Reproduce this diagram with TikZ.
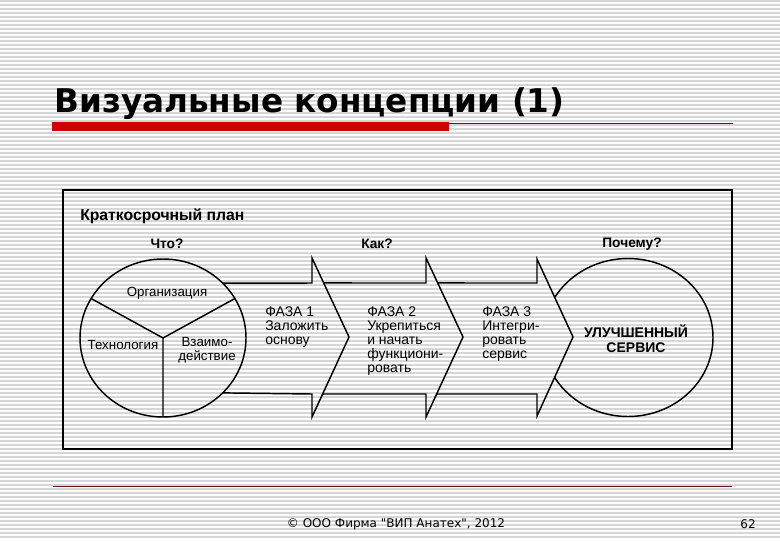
\documentclass[tikz,border=0pt]{standalone}
\usepackage{fontspec}
\setmainfont{Liberation Sans}
\newfontfamily\titlefont{DejaVu Sans}
\newfontfamily\footfont{DejaVu Sans}
\usetikzlibrary{calc}
\definecolor{paper}{HTML}{FFFFFF}
\definecolor{stripe}{HTML}{D6D6D6}
\definecolor{barred}{HTML}{CC0000}
\definecolor{linered}{HTML}{701010}
\definecolor{ink}{HTML}{000000}
\tikzset{
  base/.style={draw=ink, line width=1.1pt, line join=miter},
  frame/.style={draw=ink, line width=0.9pt},
  stripes/.style={draw=stripe, line width=1pt},
  thinred/.style={draw=linered, line width=0.8pt},
  titlelab/.style={text=ink, font=\titlefont\bfseries\fontsize{24.5}{26}\selectfont, inner sep=0pt},
  head/.style={text=ink, font=\bfseries\fontsize{11.8}{13}\selectfont, inner sep=0pt},
  ask/.style={text=ink, font=\bfseries\fontsize{10.3}{12}\selectfont, inner sep=0pt},
  lab/.style={text=ink, font=\fontsize{10}{10.5}\selectfont, inner sep=0pt, align=center},
  phase/.style={text=ink, font=\fontsize{10.5}{10.5}\selectfont, inner sep=0pt, align=left, anchor=north west},
  goal/.style={text=ink, font=\bfseries\fontsize{10.5}{11.5}\selectfont, inner sep=0pt, align=center},
  foot/.style={text=ink, font=\footfont\fontsize{9}{10}\selectfont, inner sep=0pt},
}
\begin{document}
\begin{tikzpicture}[x=0.75pt, y=-0.75pt]
  \useasboundingbox (0,0) rectangle (780,540);
  \fill[paper] (0,0) rectangle (780,540);
  \foreach \s in {1,5,...,537} \draw[stripes] (0,\s) -- (780,\s);

  % title and rules
  \node[titlelab, anchor=base west] (title) at (54,112) {Визуальные концепции (1)};
  \fill[barred] (52,122) rectangle (449,131);
  \draw[thinred] (449,123.5) -- (733,123.5);
  \draw[thinred] (53,486.5) -- (732,486.5);

  % frame and captions
  \draw[frame] (63,190) rectangle (732,449);
  \node[head, anchor=west] (plan) at (80,216) {Краткосрочный план};
  \node[ask] (what) at (167,244) {Что?};
  \node[ask] (how) at (377,244) {Как?};
  \node[ask] (why) at (632,244) {Почему?};

  % left circle
  \coordinate (L) at (163,338);
  \draw[base] (L) ellipse (83 and 79);
  \draw[base] (L) -- ($(L)+(-150:83 and 79)$)
              (L) -- ($(L)+(-30:83 and 79)$)
              (L) -- ($(L)+(90:83 and 79)$);
  \node[lab] (org) at (167,293) {Организация};
  \node[lab] (tech) at (123,345) {Технология};
  \node[lab] (inter) at (207,350) {Взаимо-\\действие};

  % arrow band
  \coordinate (A1) at (312,258); \coordinate (T1) at (349,337); \coordinate (B1) at (312,417);
  \coordinate (A2) at (426,258); \coordinate (T2) at (463,337); \coordinate (B2) at (426,417);
  \coordinate (A3) at (537,259); \coordinate (T3) at (573,337); \coordinate (B3) at (537,416);
  \draw[base] ($(L)+(-44:83 and 79)$) -- (312,283) -- (A1) -- (T1) -- (B1) -- (312,394)
              -- ($(L)+(44:83 and 79)$);
  \draw[base] ($(A1)!0.316!(T1)$) -- (426,283) -- (A2) -- (T2) -- (B2) -- (426,394)
              -- ($(B1)!0.2875!(T1)$);
  \draw[base] ($(A2)!0.316!(T2)$) -- (537,283) -- (A3) -- (T3) -- (B3) -- (537,394)
              -- ($(B2)!0.2875!(T2)$);
  \node[phase] (ph1) at (265,306) {ФАЗА 1\\Заложить\\основу};
  \node[phase] (ph2) at (367,306) {ФАЗА 2\\Укрепиться\\и начать\\функциони-\\ровать};
  \node[phase] (ph3) at (482,306) {ФАЗА 3\\Интегри-\\ровать\\сервис};

  % right circle
  \coordinate (R) at (628,337.5);
  \begin{scope}
    \clip (537,190) -- (A3) -- (T3) -- (B3) -- (537,449) -- (732,449) -- (732,190) -- cycle;
    \draw[base] (R) ellipse (85 and 79);
  \end{scope}
  \node[goal] (serv) at (636,339) {УЛУЧШЕННЫЙ\\СЕРВИС};

  % footer
  \node[foot] (copy) at (396,524) {© ООО Фирма "ВИП Анатех", 2012};
  \node[foot] (page) at (748,524) {62};
\end{tikzpicture}
\end{document}
